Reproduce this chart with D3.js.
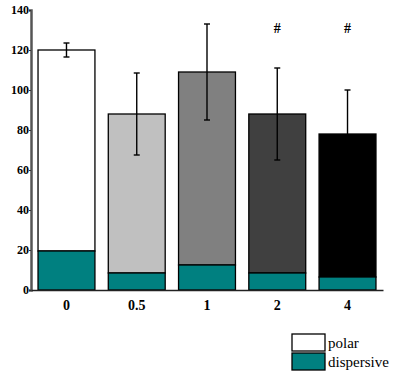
<!DOCTYPE html>
<html>
<head>
<meta charset="utf-8">
<script src="https://cdn.jsdelivr.net/npm/d3@7"></script>
<style>
  body { margin: 0; background: #fff; }
  svg { display: block; }
  text { font-family: "Liberation Serif", "Times New Roman", serif; }
</style>
</head>
<body>
<div id="chart"></div>
<script>
// data
const doses = ["0", "0.5", "1", "2", "4"];
const dispersive = [19.5, 8.5, 12.5, 8.5, 6.5];
const polar = [100.5, 79.5, 96.5, 79.5, 71.5];
const errors = [3.5, 20.5, 24, 23, 22];
const polarColors = ["#ffffff", "#c0c0c0", "#808080", "#404040", "#000000"];
const marked = ["2", "4"];
const yTicks = [0, 20, 40, 60, 80, 100, 120, 140];

const width = 394, height = 374;
const margin = { top: 10, left: 31, right: 11, bottom: 84 };
const teal = "#008080";
const serif = "'Liberation Serif', 'Times New Roman', serif";

const svg = d3.select("#chart").append("svg")
  .attr("width", width)
  .attr("height", height);

const x = d3.scaleBand()
  .domain(doses)
  .range([margin.left, width - margin.right])
  .paddingInner(0.19)
  .paddingOuter(0.1);

const y = d3.scaleLinear()
  .domain([0, 140])
  .range([height - margin.bottom, margin.top]);

const rows = doses.map((d, i) => ({
  dose: d, dispersive: dispersive[i], polar: polar[i],
  total: dispersive[i] + polar[i], err: errors[i], color: polarColors[i]
}));

// polar (upper) part
svg.selectAll("rect.polar")
  .data(rows)
  .enter()
  .append("rect")
  .attr("class", "polar")
  .attr("x", d => x(d.dose))
  .attr("y", d => y(d.total))
  .attr("width", x.bandwidth())
  .attr("height", d => y(d.dispersive) - y(d.total))
  .attr("fill", d => d.color)
  .attr("stroke", "#000")
  .attr("stroke-width", 1.3);

// dispersive (lower) part
svg.selectAll("rect.disp")
  .data(rows)
  .enter()
  .append("rect")
  .attr("class", "disp")
  .attr("x", d => x(d.dose))
  .attr("y", d => y(d.dispersive))
  .attr("width", x.bandwidth())
  .attr("height", d => y(0) - y(d.dispersive))
  .attr("fill", teal)
  .attr("stroke", "#000")
  .attr("stroke-width", 1.3);

// error bars
const eb = svg.selectAll("g.err")
  .data(rows)
  .enter()
  .append("g")
  .attr("class", "err")
  .attr("stroke", "#000")
  .attr("stroke-width", 1.4);

eb.append("line")
  .attr("x1", d => x(d.dose) + x.bandwidth() / 2)
  .attr("x2", d => x(d.dose) + x.bandwidth() / 2)
  .attr("y1", d => y(d.total + d.err))
  .attr("y2", d => y(d.total - d.err));

[1, -1].forEach(s => {
  eb.append("line")
    .attr("x1", d => x(d.dose) + x.bandwidth() / 2 - 3)
    .attr("x2", d => x(d.dose) + x.bandwidth() / 2 + 3)
    .attr("y1", d => y(d.total + s * d.err))
    .attr("y2", d => y(d.total + s * d.err));
});

// significance marks
svg.selectAll("text.mark")
  .data(marked)
  .enter()
  .append("text")
  .attr("class", "mark")
  .attr("x", d => x(d) + x.bandwidth() / 2)
  .attr("y", 33)
  .attr("text-anchor", "middle")
  .style("font-family", serif)
  .style("font-size", "14px")
  .style("font-weight", "bold")
  .text("#");

// y axis
const yAxis = svg.append("g")
  .attr("transform", `translate(${margin.left},0)`)
  .call(d3.axisLeft(y).tickValues(yTicks).tickSize(2).tickPadding(0));
yAxis.select(".domain").attr("stroke", "#555").attr("stroke-width", 2.5);
yAxis.selectAll(".tick line").attr("stroke", "#333");
yAxis.selectAll("text")
  .style("font-family", serif)
  .style("font-size", "12px")
  .style("font-weight", "bold")
  .attr("fill", "#000");

// x axis
const xAxis = svg.append("g")
  .attr("transform", `translate(0,${y(0)})`)
  .call(d3.axisBottom(x).tickSize(0).tickPadding(10).tickSizeOuter(0));
xAxis.select(".domain").attr("stroke", "#222").attr("stroke-width", 1.5);
xAxis.selectAll("text")
  .style("font-family", serif)
  .style("font-size", "14px")
  .style("font-weight", "bold")
  .attr("fill", "#000");

// legend
const legendItems = [
  { label: "polar", color: "#ffffff" },
  { label: "dispersive", color: teal }
];
const legend = svg.append("g")
  .attr("transform", "translate(292,334)");
legendItems.forEach((d, i) => {
  legend.append("rect")
    .attr("x", 0)
    .attr("y", i * 19)
    .attr("width", 33)
    .attr("height", 17)
    .attr("fill", d.color)
    .attr("stroke", "#000")
    .attr("stroke-width", 1.3);
  legend.append("text")
    .attr("x", 36)
    .attr("y", i * 19 + 14)
    .style("font-family", serif)
    .style("font-size", "15px")
    .text(d.label);
});
</script>
</body>
</html>
